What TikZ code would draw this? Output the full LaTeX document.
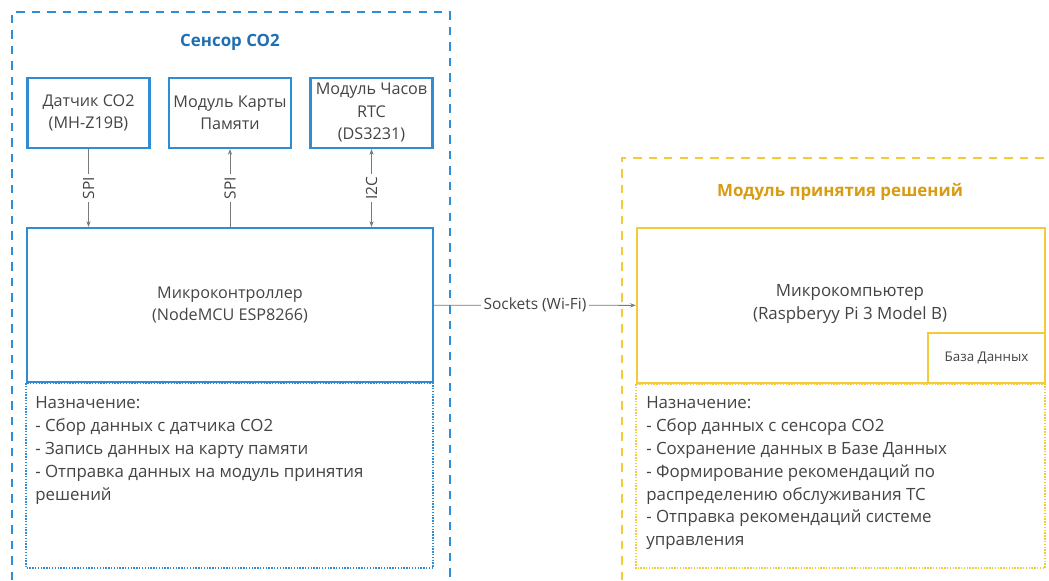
\documentclass[tikz,border=0pt]{standalone}
\usepackage{fontspec}
\setmainfont{Open Sans}
\usepackage{tikz}
\usetikzlibrary{arrows.meta}

\definecolor{sensblue}{HTML}{2F8DD3}
\definecolor{sensdark}{HTML}{1F6FB2}
\definecolor{decyellow}{HTML}{F2CB3A}
\definecolor{decorange}{HTML}{D89B12}
\definecolor{txtgray}{HTML}{444444}
\definecolor{linegray}{HTML}{7A7A7A}

\tikzset{
  blk/.style={draw=#1, line width=1.6pt, text=txtgray, align=center,
    font=\fontsize{11.5}{16}\selectfont, inner sep=2pt},
  note/.style={draw=#1, densely dotted, line width=1pt},
  group/.style={draw=#1, dashed, line width=1.4pt, dash pattern=on 6pt off 5pt},
  link/.style={draw=linegray, line width=0.6pt, -{Stealth[length=4pt,width=3pt]}},
  lbl/.style={fill=white, text=txtgray, font=\fontsize{11}{13}\selectfont, inner sep=2pt},
  ttl/.style={font=\bfseries\fontsize{12}{14}\selectfont}
}

\begin{document}
\begin{tikzpicture}[x=0.025cm, y=-0.025cm]
      \useasboundingbox (0,0) rectangle (1049,580);
      % groups
      \draw[group=sensblue] (12,580) -- (12,12) -- (450,12) -- (450,580);
      \draw[group=decyellow] (622,580) -- (622,158) -- (1049,158);
      \node[ttl, text=sensdark] (senstitle) at (230,42) {Сенсор CO2};
      \node[ttl, text=decorange] (dectitle) at (840,192) {Модуль принятия решений};

      % sensor parts
      \node[blk=sensblue, minimum width=3.05cm, minimum height=1.75cm] (co2) at (88.5,113) {Датчик CO2\\(MH-Z19B)};
      \node[blk=sensblue, minimum width=3.05cm, minimum height=1.75cm] (sd) at (230,113) {Модуль Карты\\Памяти};
      \node[blk=sensblue, minimum width=3.05cm, minimum height=1.75cm] (rtc) at (371.5,113) {Модуль Часов\\RTC\\(DS3231)};
      \node[blk=sensblue, minimum width=10.15cm, minimum height=3.85cm] (mcu) at (230,305) {Микроконтроллер\\(NodeMCU ESP8266)};
      \draw[note=sensblue] (mcu.south west) rectangle (433,568);
      \node[anchor=north west, align=left, text=txtgray, font=\fontsize{12}{16.3}\selectfont, inner sep=0pt] (sensnote) at (35,396)
        {Назначение:\\- Сбор данных с датчика CO2\\- Запись данных на карту памяти\\- Отправка данных на модуль принятия\\решений};

      % decision parts
      \node[blk=decyellow, minimum width=10.2cm, minimum height=3.875cm] (rpi) at (841,305.5) {};
      \node[text=txtgray, align=center, font=\fontsize{12}{16}\selectfont] (rpitext) at (850,304) {Микрокомпьютер\\(Raspberyy Pi 3 Model B)};
      \node[blk=decyellow, anchor=south east, minimum width=2.925cm, minimum height=1.25cm, font=\fontsize{9.5}{11}\selectfont] (db) at (rpi.south east) {База Данных};
      \draw[note=decyellow] (rpi.south west) rectangle (1045,568);
      \node[anchor=north west, align=left, text=txtgray, font=\fontsize{12}{16.3}\selectfont, inner sep=0pt] (decnote) at (646,396)
        {Назначение:\\- Сбор данных с сенсора CO2\\- Сохранение данных в Базе Данных\\- Формирование рекомендаций по\\распределению обслуживания ТС\\- Отправка рекомендаций системе\\управления};

      % connections
      \draw[link] (co2) -- node[lbl, rotate=90] {SPI} (co2 |- mcu.north);
      \draw[link] (sd |- mcu.north) -- node[lbl, rotate=90] {SPI} (sd);
      \draw[link, {Stealth[length=4pt,width=3pt]}-{Stealth[length=4pt,width=3pt]}] (rtc) -- node[lbl, rotate=90] {I2C} (rtc |- mcu.north);
      \draw[link] (mcu) -- node[lbl] {Sockets (Wi-Fi)} (rpi);
\end{tikzpicture}
\end{document}
